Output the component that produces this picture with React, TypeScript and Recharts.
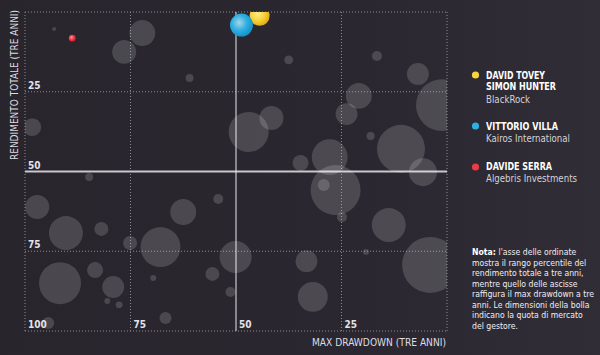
import React from 'react';
import { ScatterChart, Scatter, XAxis, YAxis, ZAxis, ReferenceLine } from 'recharts';

// fondi (bolle grigie): max drawdown, rango percentile del rendimento, quota di mercato
const maxDrawdown = [
  93.1, 72.2, 76.5, 61.0, 37.5, 16.6, 6.9, 20.9, 23.8, 1.2, 98.3, 47.0, 41.6, 18.1, 10.9,
  27.8, 34.7, 5.7, 26.4, 29.2, 24.9, 54.2, 13.8, 50.1, 33.3, 19.2, 4.0, 55.6, 51.3, 31.8,
  97.1, 90.3, 81.9, 75.1, 62.5, 67.9, 91.7, 83.4, 79.1, 80.5, 77.7, 94.5, 69.6, 66.7, 84.8,
];
const rendimentoRango = [
  5.3, 6.6, 12.5, 20.7, 15.0, 13.8, 19.4, 26.3, 32.0, 29.2, 36.1, 37.6, 33.2, 38.9, 42.9,
  45.5, 47.3, 50.2, 55.8, 54.2, 64.3, 58.6, 66.8, 76.8, 78.1, 75.2, 79.3, 82.1, 87.8, 89.3,
  61.1, 69.3, 68.0, 72.4, 62.7, 73.7, 85.0, 80.9, 86.2, 90.6, 91.8, 97.5, 83.4, 95.9, 51.7,
];
const quotaMercato = [
  0.5, 21, 18, 2, 2.5, 3.1, 15, 21, 15, 84, 10, 50, 18, 2, 72,
  40, 8, 24.5, 78, 4.5, 3.1, 3.1, 36, 32, 15, 1.1, 98, 6.1, 3.1, 28,
  18, 36, 6.1, 6.1, 21, 50, 55, 8, 15, 1.1, 1.5, 4.5, 1.1, 4.5, 2,
];

// gestori evidenziati
const gestori = [['DAVID TOVEY', 'SIMON HUNTER'], ['VITTORIO VILLA'], ['DAVIDE SERRA']];
const societa = ['BlackRock', 'Kairos International', 'Algebris Investments'];
const gestoriDrawdown = [44.4, 48.7, 88.8];
const gestoriRango = [1.2, 4.1, 8.2];
const gestoriQuota = [12.5, 16.5, 1.5];

const xTicks = [100, 75, 50, 25];
const yTicks = [25, 50, 75];

const nota = [
  "l'asse delle ordinate",
  'mostra il rango percentile del',
  'rendimento totale a tre anni,',
  'mentre quello delle ascisse',
  'raffigura il max drawdown a tre',
  'anni. Le dimensioni della bolla',
  'indicano la quota di mercato',
  'del gestore.',
];

const FONT = "'Liberation Sans Narrow', 'DejaVu Sans Condensed', 'Roboto Condensed', Roboto, sans-serif";
const colors = [
  { light: '#ffe98a', mid: '#f8d43a', dark: '#e2ad1c' },
  { light: '#a9d4ea', mid: '#2fb0e2', dark: '#1593cb' },
  { light: '#ff9aa0', mid: '#ee3a45', dark: '#c81f2c' },
];

const greyData = maxDrawdown.map((x, i) => ({ x, y: rendimentoRango[i], z: quotaMercato[i] }));

const bubble = (props: any) => {
  const r = props.width / 2;
  return <circle cx={props.cx} cy={props.cy} r={r} fill="#ffffff" fillOpacity={0.16} />;
};

const colored = (i: number) => (props: any) => {
  const r = props.width / 2;
  const id = 'grad' + i;
  return (
    <g>
      <defs>
        <radialGradient id={id} cx="40%" cy="40%" r="60%">
          <stop offset="0%" stopColor={colors[i].light} />
          <stop offset="55%" stopColor={colors[i].mid} />
          <stop offset="100%" stopColor={colors[i].dark} />
        </radialGradient>
      </defs>
      <circle cx={props.cx} cy={props.cy} r={r} fill={`url(#${id})`} />
    </g>
  );
};

const tickLabel = (value: string, position: string) => ({
  value,
  position,
  offset: 3,
  fill: '#e4e2e8',
  fontSize: 10,
  fontWeight: 600,
  fontFamily: FONT,
});

export default function App() {
  const dotted = { stroke: '#8c8a92', strokeDasharray: '1 2', strokeWidth: 1 };
  return (
    <div
      style={{
        position: 'absolute',
        left: 0,
        top: 0,
        width: 600,
        height: 355,
        overflow: 'hidden',
        background: 'linear-gradient(90deg, #28252d 0%, #2a2730 60%, #302d36 100%)',
      }}
    >
      <ScatterChart width={600} height={355} margin={{ top: 12, right: 153, bottom: 24, left: 25 }}>
        <XAxis type="number" dataKey="x" domain={[0, 100]} reversed hide allowDataOverflow />
        <YAxis type="number" dataKey="y" domain={[0, 100]} reversed hide allowDataOverflow />
        <ZAxis type="number" dataKey="z" domain={[0, 100]} range={[0, 2513]} />
        {[0, 100].map((v) => (
          <ReferenceLine key={'hx' + v} y={v} {...dotted} />
        ))}
        {[0, 25, 75, 100].map((v) => (
          <ReferenceLine key={'vx' + v} x={v} {...dotted} />
        ))}
        <Scatter data={greyData} shape={bubble} isAnimationActive={false} />
        {gestoriDrawdown.map((x, i) => (
          <Scatter
            key={'g' + i}
            data={[{ x, y: gestoriRango[i], z: gestoriQuota[i] }]}
            shape={colored(i)}
            isAnimationActive={false}
          />
        ))}
        {[25, 75].map((v) => (
          <ReferenceLine key={'hy' + v} y={v} {...dotted} />
        ))}
        <ReferenceLine y={50} stroke="#c9c7cd" strokeWidth={2} />
        <ReferenceLine x={50} stroke="#e8e8ea" strokeWidth={1} />
        {xTicks.map((v) => (
          <ReferenceLine key={'lx' + v} x={v} stroke="none" label={tickLabel(String(v), 'insideBottomLeft')} />
        ))}
        {yTicks.map((v) => (
          <ReferenceLine key={'ly' + v} y={v} stroke="none" label={tickLabel(String(v), 'insideBottomLeft')} />
        ))}
      </ScatterChart>
      <svg width={600} height={355} style={{ position: 'absolute', left: 0, top: 0, pointerEvents: 'none' }}>
        <text
          x={17.5}
          y={85}
          transform="rotate(-90 17.5 85)"
          textAnchor="middle"
          fill="#dedce2"
          fontSize={10.5}
          fontFamily={FONT}
          textLength={150}
          lengthAdjust="spacingAndGlyphs"
        >
          RENDIMENTO TOTALE (TRE ANNI)
        </text>
        <text
          x={446}
          y={346}
          textAnchor="end"
          fill="#dedce2"
          fontSize={11}
          fontFamily={FONT}
          textLength={134}
          lengthAdjust="spacingAndGlyphs"
        >
          MAX DRAWDOWN (TRE ANNI)
        </text>

        {/* legenda */}
        {[
          { y: 75, names: [79.3, 90.4], comp: 103, nw: [59, 70], cw: 44 },
          { y: 126, names: [129.7], comp: 142, nw: [72], cw: 84 },
          { y: 167, names: [170.4], comp: 182, nw: [66], cw: 91 },
        ].map((l, i) => (
          <g key={'leg' + i}>
            <circle cx={475.5} cy={l.y} r={3.6} fill={colors[i].mid} />
            {gestori[i].map((n, j) => (
              <text
                key={n}
                x={486}
                y={l.names[j]}
                fill="#ffffff"
                fontSize={10.5}
                fontWeight={700}
                fontFamily={FONT}
                textLength={l.nw[j]}
                lengthAdjust="spacingAndGlyphs"
              >
                {n}
              </text>
            ))}
            <text
              x={486}
              y={l.comp}
              fill="#d4d2d8"
              fontSize={10.5}
              fontFamily={FONT}
              textLength={l.cw}
              lengthAdjust="spacingAndGlyphs"
            >
              {societa[i]}
            </text>
          </g>
        ))}
      </svg>

      {/* nota */}
      <div
        style={{
          position: 'absolute',
          left: 472,
          top: 247,
          fontFamily: FONT,
          fontSize: 8.6,
          lineHeight: '10.5px',
          color: '#f0eef2',
          whiteSpace: 'nowrap',
        }}
      >
        {nota.map((line, i) => (
          <div key={'n' + i}>
            {i === 0 && <b style={{ color: '#ffffff' }}>Nota: </b>}
            {line}
          </div>
        ))}
      </div>
    </div>
  );
}
